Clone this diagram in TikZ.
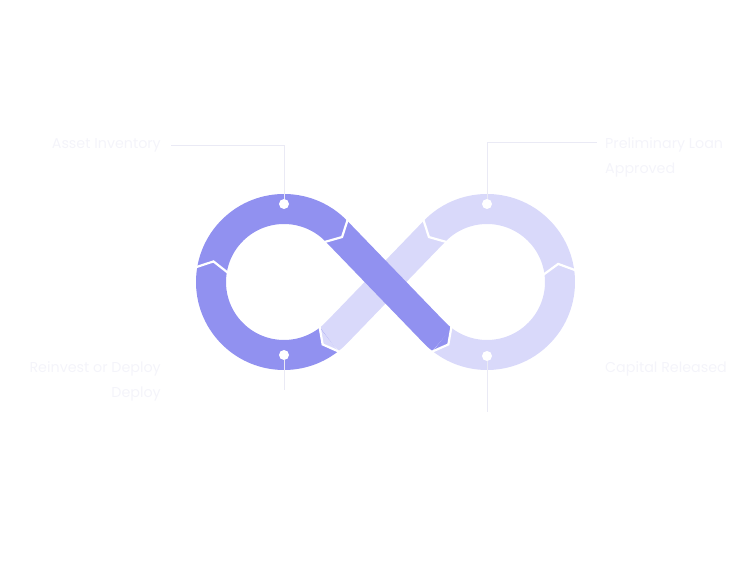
\documentclass[tikz,border=0pt]{standalone}
\usepackage{fontspec}
\setmainfont{Poppins}
\usetikzlibrary{calc, positioning}
\definecolor{loopdark}{HTML}{9191F0}
\definecolor{looplight}{HTML}{D9D9FA}
\definecolor{faintlbl}{HTML}{F4F4FA}
\definecolor{faintline}{HTML}{EAEAF5}
\newcommand{\loopnotch}[3]{%
  \fill[#3] ($(#1)+(#2+90:15pt)$) -- ($(#1)+(#2:8pt)$) -- ($(#1)+(#2-90:15pt)$) -- cycle;
  \draw[notchline] ($(#1)+(#2:-2.7pt)+(#2+90:20pt)$) -- ($(#1)+(#2:8pt)$)
    -- ($(#1)+(#2:-2.7pt)+(#2-90:20pt)$);}

\begin{document}
\begin{tikzpicture}[x=1pt, y=1pt,
    band/.style={line width=30pt},
    notchline/.style={white, line width=2.2pt, line join=miter},
    bead/.style={circle, fill=white, inner sep=0pt, minimum size=10pt},
    leader/.style={faintline, line width=1pt},
    lbl/.style={text=faintlbl, inner sep=0pt, font=\fontsize{14.3}{25.5}\selectfont}]
  \useasboundingbox (0,0) rectangle (750,570);
  \coordinate (cl) at (284,288);
  \coordinate (cr) at (487,288);
  \draw[band, looplight] ($(cl)+(-52:73pt)$) arc[start angle=-52, end angle=-44, radius=73pt]
    -- ($(cr)+(136:73pt)$) arc[start angle=136, end angle=-128, radius=73pt];
  \draw[band, loopdark] ($(cr)+(-128:73pt)$) arc[start angle=-128, end angle=-136, radius=73pt]
    -- ($(cl)+(44:73pt)$) arc[start angle=44, end angle=308, radius=73pt];
  \coordinate (n1) at ($(cl)+(170:73pt)$);
  \coordinate (n2) at ($(cl)+(44:73pt)$);
  \coordinate (n3) at ($(cr)+(232:73pt)$);
  \coordinate (n4) at ($(cr)+(8:73pt)$);
  \coordinate (n5) at ($(cr)+(136:73pt)$);
  \coordinate (n6) at ($(cl)+(308:73pt)$);
  \loopnotch{n1}{80}{loopdark}
  \loopnotch{n2}{-46}{loopdark}
  \loopnotch{n3}{-38}{loopdark}
  \loopnotch{n4}{98}{looplight}
  \loopnotch{n5}{226}{looplight}
  \loopnotch{n6}{218}{looplight}
  \node[bead] (dotTL) at ($(cl)+(90:78pt)$) {};
  \node[bead] (dotTR) at ($(cr)+(90:78pt)$) {};
  \node[bead] (dotBL) at ($(cl)+(270:73pt)$) {};
  \node[bead] (dotBR) at ($(cr)+(270:74pt)$) {};
  \node[lbl, anchor=base east] (asset) at (161,421) {Asset Inventory};
  \node[lbl, anchor=north west, align=left] (prelim) at (605,433) {Preliminary Loan\\Approved};
  \node[lbl, anchor=north east, align=right] (reinvest) at (161,209) {Reinvest or Deploy\\Deploy};
  \node[lbl, anchor=base west] (capital) at (605,197) {Capital Released};
  \coordinate (kPL) at (597,427);
  \coordinate (kRD) at (284,180);
  \coordinate (kCR) at (487,158);
  \draw[leader, shorten >=10pt] (dotTL) |- (asset);
  \draw[leader] (dotTR) |- (kPL);
  \draw[leader] (dotBL) -- (kRD);
  \draw[leader] (dotBR) -- (kCR);
\end{tikzpicture}
\end{document}
